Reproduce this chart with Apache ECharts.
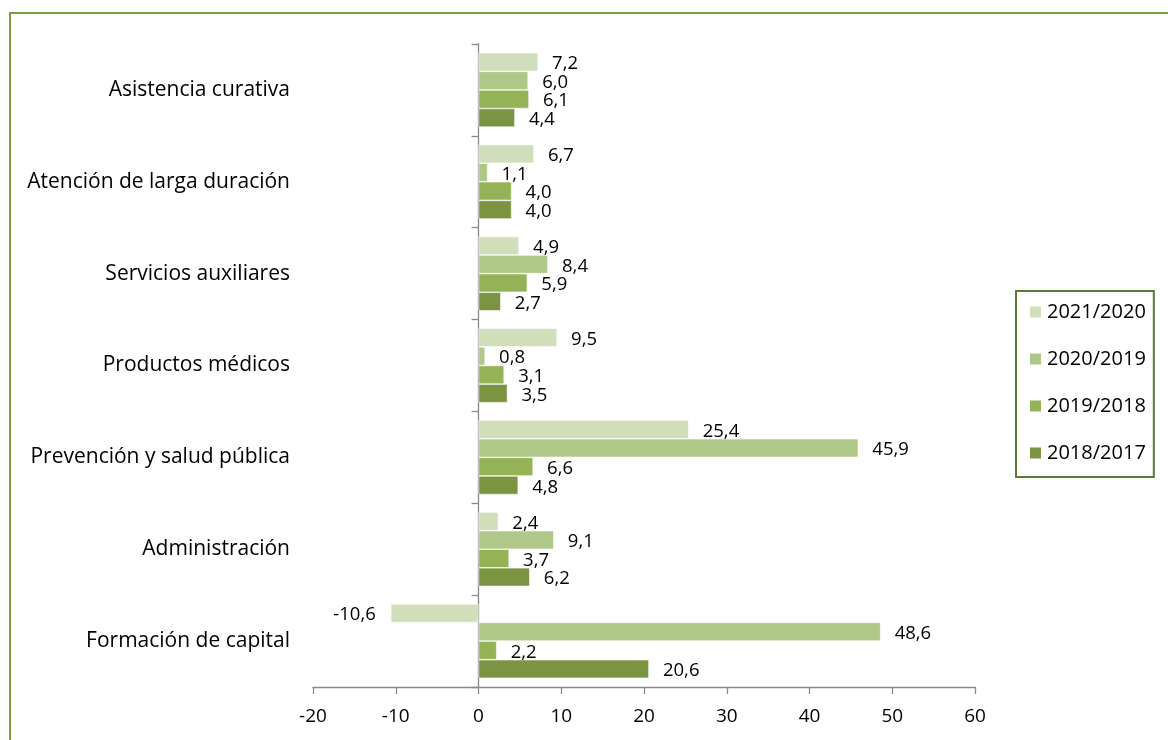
<!DOCTYPE html>
<html><head><meta charset="utf-8">
<script src="https://cdn.jsdelivr.net/npm/echarts@6/dist/echarts.min.js"></script>
<style>html,body{margin:0;padding:0;background:#fff}#c{width:1168px;height:740px}</style>
</head><body><div id="c"></div>
<script>
const categories = ["Asistencia curativa","Atención de larga duración","Servicios auxiliares","Productos médicos","Prevención y salud pública","Administración","Formación de capital"];
const seriesNames = ["2021/2020","2020/2019","2019/2018","2018/2017"];
const v2021 = [7.2, 6.7, 4.9, 9.5, 25.4, 2.4, -10.6];
const v2020 = [6.0, 1.1, 8.4, 0.8, 45.9, 9.1, 48.6];
const v2019 = [6.1, 4.0, 5.9, 3.1, 6.6, 3.7, 2.2];
const v2018 = [4.4, 4.0, 2.7, 3.5, 4.8, 6.2, 20.6];
const xTicks = [-20, -10, 0, 10, 20, 30, 40, 50, 60];
const colors = ["#d0deba", "#afc887", "#94b256", "#7a9442"];
const values = [v2021, v2020, v2019, v2018];
const FONT = "Open Sans";

const chart = echarts.init(document.getElementById('c'));
const series = values.map((arr, i) => ({
  name: seriesNames[i],
  type: 'bar',
  barGap: '0%',
  barCategoryGap: '19%',
  itemStyle: {color: colors[i], borderColor: '#fff', borderWidth: 0.6},
  label: {show: true, position: 'right', distance: 14, offset: [0, 2], color: '#000', fontFamily: FONT, fontSize: 18.5,
          formatter: p => p.value.toFixed(1).replace('.', ',')},
  data: arr.map(v => v < 0 ? {value: v, label: {position: 'left', distance: 15}} : v)
}));
chart.setOption({
  animation: false,
  textStyle: {fontFamily: FONT},
  graphic: [{type: 'rect', shape: {x: 10, y: 13, width: 1200, height: 800},
             style: {fill: 'none', stroke: '#7d9c3f', lineWidth: 2}}],
  grid: {left: 313, right: 193, top: 44, bottom: 53, containLabel: false, outerBoundsMode: 'none'},
  legend: {
    orient: 'vertical', left: 1016, top: 291, width: 150,
    data: seriesNames, icon: 'rect', itemWidth: 13, itemHeight: 13, itemGap: 27,
    padding: [11, 8, 14, 12],
    backgroundColor: '#fff', borderColor: '#5f7a32', borderWidth: 2, borderRadius: 0,
    textStyle: {fontFamily: FONT, fontSize: 20, color: '#000'}
  },
  xAxis: {
    type: 'value', min: -20, max: 60, interval: 10,
    axisLine: {show: true, onZero: false, lineStyle: {color: '#898989', width: 1.3}},
    axisTick: {show: true, length: 7, lineStyle: {color: '#898989', width: 1.3}},
    splitLine: {show: false},
    axisLabel: {color: '#000', fontFamily: FONT, fontSize: 19, margin: 20,
                formatter: v => xTicks.includes(v) ? String(v) : ''}
  },
  yAxis: {
    type: 'category', data: categories, inverse: true,
    axisLine: {show: true, onZero: true, lineStyle: {color: '#898989', width: 1.3}},
    axisTick: {show: true, length: 7, lineStyle: {color: '#898989', width: 1.3}},
    axisLabel: {color: '#000', fontFamily: FONT, fontSize: 21, margin: 23}
  },
  series: series
});
</script></body></html>
